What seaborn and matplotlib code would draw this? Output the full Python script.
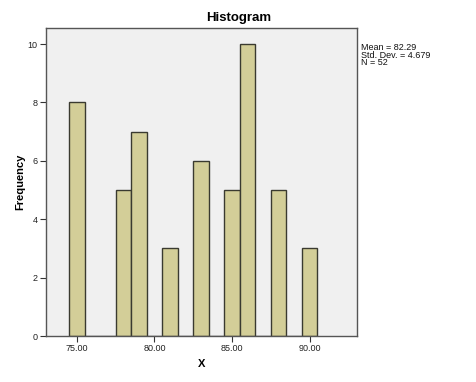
import numpy as np
import pandas as pd
import matplotlib
matplotlib.use("Agg")
import matplotlib.pyplot as plt
import seaborn as sns

# values (bin centres) and their frequencies
x_values = [75, 78, 79, 81, 83, 85, 86, 88, 90]
frequency = [8, 5, 7, 3, 6, 5, 10, 5, 3]
x_ticks = [75, 80, 85, 90]
y_ticks = [0, 2, 4, 6, 8, 10]
stats_text = ["Mean = 82.29", "Std. Dev. = 4.679", "N = 52"]

df = pd.DataFrame({"X": x_values, "Frequency": frequency})

sns.set_style("white")
plt.rcParams["font.family"] = ["Liberation Sans", "DejaVu Sans"]
plt.rcParams["text.color"] = "black"
plt.rcParams["axes.labelcolor"] = "black"

fig = plt.figure(figsize=(4.77, 3.82), dpi=100)
ax = fig.add_axes([0.0964, 0.1204, 0.6516, 0.8063])
ax.set_facecolor("#F0F0F0")

sns.histplot(data=df, x="X", weights="Frequency", discrete=True, shrink=1,
             color="#D3CE98", edgecolor="#3A3A30", linewidth=1.0, alpha=1,
             ax=ax)

ax.set_xlim(73.02, 93.03)
ax.set_ylim(0, 10.55)
ax.set_xticks(x_ticks)
ax.set_xticklabels([f"{t:.2f}" for t in x_ticks])
ax.set_yticks(y_ticks)
ax.set_yticklabels([str(t) for t in y_ticks])
ax.tick_params(axis="both", direction="out", length=4, width=0.8,
               color="#333333", labelsize=6.5, labelcolor="#222222", pad=2,
               bottom=True, left=True)

for s in ax.spines.values():
    s.set_color("#555555")
    s.set_linewidth(1.0)

ax.set_xlabel("X", fontsize=8, fontweight="bold", labelpad=4)
ax.set_ylabel("Frequency", fontsize=8, fontweight="bold", labelpad=2)

fig.text(0.5, 0.953, "Histogram", ha="center", va="center",
         fontsize=9.5, fontweight="bold")
fig.text(0.757, 0.856, "\n".join(stats_text), ha="left", va="center",
         fontsize=6.5, linespacing=0.85, color="#111111")

fig.savefig("out.png", dpi=100)
